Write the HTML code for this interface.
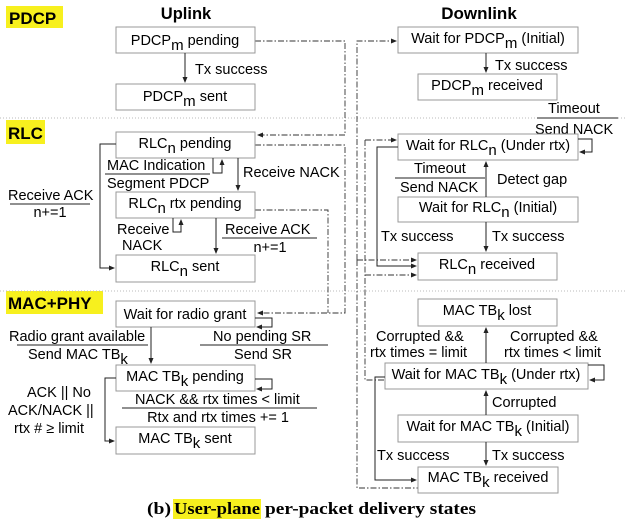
<!DOCTYPE html>
<html><head><meta charset="utf-8"><style>
body{margin:0;background:#fff;}
svg{display:block;font-family:"Liberation Sans",sans-serif;font-size:14.5px;}
.b{fill:#fff;stroke:#999;stroke-width:1;}
.l{stroke:#222;stroke-width:1;fill:none;}
.d{stroke:#333;stroke-width:0.9;fill:none;stroke-dasharray:6,2,1.5,2;}
</style></head><body>
<svg width="625" height="528" viewBox="0 0 625 528">
<defs><marker id="a" markerWidth="6" markerHeight="6" refX="5" refY="3" orient="auto" markerUnits="userSpaceOnUse"><path d="M0,0.5 L6,3 L0,5.5z" fill="#222"/></marker></defs>
<rect x="6" y="6" width="57" height="22" fill="#f7f01e"/>
<text x="9" y="24" font-weight="bold" font-size="17">PDCP</text>
<rect x="6" y="120" width="39" height="24" fill="#f7f01e"/>
<text x="8" y="139" font-weight="bold" font-size="17">RLC</text>
<rect x="6" y="291" width="97" height="23" fill="#f7f01e"/>
<text x="8" y="309" font-weight="bold" font-size="17">MAC+PHY</text>
<text x="186" y="19" font-weight="bold" font-size="16.5" text-anchor="middle">Uplink</text>
<text x="479" y="19" font-weight="bold" font-size="17" text-anchor="middle">Downlink</text>
<line x1="0" y1="118" x2="625" y2="118" stroke="#bbb" stroke-dasharray="1,2"/>
<line x1="0" y1="291" x2="625" y2="291" stroke="#bbb" stroke-dasharray="1,2"/>

<path class="d" d="M255,41 H345 V135 H258" marker-end="url(#a)"/>
<path class="d" d="M255,145 H345 V313 H258" marker-end="url(#a)"/>
<path class="d" d="M255,210 H328 V313"/>
<path class="d" d="M357,260 V41 H396" marker-end="url(#a)"/>
<path class="d" d="M357,260 H416" marker-end="url(#a)"/>
<path class="d" d="M357,260 V488 H418"/>
<path class="d" d="M365,140 H396" marker-end="url(#a)"/>
<path class="d" d="M365,140 V380 H385"/>
<path class="d" d="M365,275 H416" marker-end="url(#a)"/>

<rect class="b" x="116" y="27" width="139" height="26"/>
<text x="185" y="45" text-anchor="middle">PDCP<tspan dy="5" font-size="15">m</tspan><tspan dy="-5"> pending</tspan></text>
<rect class="b" x="116" y="84" width="139" height="26"/>
<text x="185" y="101" text-anchor="middle">PDCP<tspan dy="5" font-size="15">m</tspan><tspan dy="-5"> sent</tspan></text>
<path class="l" d="M185,53 V82" marker-end="url(#a)"/>
<text x="195" y="74">Tx success</text>

<rect class="b" x="116" y="132" width="139" height="26"/>
<text x="185" y="148" text-anchor="middle">RLC<tspan dy="5" font-size="15">n</tspan><tspan dy="-5"> pending</tspan></text>
<rect class="b" x="116" y="192" width="139" height="26"/>
<text x="185" y="208" text-anchor="middle">RLC<tspan dy="5" font-size="15">n</tspan><tspan dy="-5"> rtx pending</tspan></text>
<rect class="b" x="116" y="255" width="139" height="27"/>
<text x="185" y="271" text-anchor="middle">RLC<tspan dy="5" font-size="15">n</tspan><tspan dy="-5">  sent</tspan></text>
<path class="l" d="M238,158 V190" marker-end="url(#a)"/>
<text x="243" y="177">Receive NACK</text>
<path class="l" d="M213,158 V173 H222 V160" marker-end="url(#a)"/>
<text x="107" y="170">MAC Indication</text>
<line class="l" x1="105" y1="174" x2="210" y2="174"/>
<text x="107" y="188">Segment PDCP</text>
<text x="8" y="200">Receive ACK</text>
<line class="l" x1="10" y1="204" x2="90" y2="204"/>
<text x="50" y="217" text-anchor="middle">n+=1</text>
<path class="l" d="M116,144 H100 V268 H114" marker-end="url(#a)"/>
<path class="l" d="M216,218 V253" marker-end="url(#a)"/>
<path class="l" d="M173,218 V232 H181 V220" marker-end="url(#a)"/>
<text x="117" y="234">Receive</text>
<text x="122" y="250">NACK</text>
<text x="225" y="234">Receive ACK</text>
<line class="l" x1="222" y1="238" x2="317" y2="238"/>
<text x="270" y="252" text-anchor="middle">n+=1</text>

<rect class="b" x="116" y="301" width="139" height="26"/>
<text x="185" y="319" text-anchor="middle">Wait for radio grant</text>
<rect class="b" x="116" y="365" width="139" height="26"/>
<text x="185" y="381" text-anchor="middle">MAC TB<tspan dy="5" font-size="15">k</tspan><tspan dy="-5"> pending</tspan></text>
<rect class="b" x="116" y="427" width="139" height="27"/>
<text x="185" y="443" text-anchor="middle">MAC TB<tspan dy="5" font-size="15">k</tspan><tspan dy="-5"> sent</tspan></text>
<path class="l" d="M151,327 V363" marker-end="url(#a)"/>
<text x="9" y="341">Radio grant available</text>
<line class="l" x1="17" y1="345" x2="148" y2="345"/>
<text x="28" y="359">Send MAC TB<tspan dy="5" font-size="15">k</tspan></text>
<path class="l" d="M255,318 H272 V327 H257" marker-end="url(#a)"/>
<text x="213" y="341">No pending SR</text>
<line class="l" x1="200" y1="345" x2="328" y2="345"/>
<text x="263" y="359" text-anchor="middle">Send SR</text>
<path class="l" d="M255,379 H272 V389 H257" marker-end="url(#a)"/>
<text x="135" y="404">NACK &amp;&amp; rtx times &lt; limit</text>
<line class="l" x1="122" y1="408" x2="317" y2="408"/>
<text x="218" y="422" text-anchor="middle">Rtx and rtx times += 1</text>
<path class="l" d="M116,378 H105 V441 H114" marker-end="url(#a)"/>
<text x="27" y="397">ACK || No</text>
<text x="8" y="415">ACK/NACK ||</text>
<text x="14" y="433">rtx # ≥ limit</text>

<rect class="b" x="398" y="27" width="180" height="26"/>
<text x="488" y="43" text-anchor="middle">Wait for PDCP<tspan dy="5" font-size="15">m</tspan><tspan dy="-5">  (Initial)</tspan></text>
<rect class="b" x="418" y="74" width="139" height="26"/>
<text x="487" y="90" text-anchor="middle">PDCP<tspan dy="5" font-size="15">m</tspan><tspan dy="-5"> received</tspan></text>
<path class="l" d="M486,53 V72" marker-end="url(#a)"/>
<text x="495" y="70">Tx success</text>
<text x="548" y="113">Timeout</text>
<line class="l" x1="537" y1="118" x2="618" y2="118"/>
<text x="535" y="134">Send NACK</text>
<rect class="b" x="398" y="134" width="180" height="26"/>
<text x="488" y="150" text-anchor="middle">Wait for RLC<tspan dy="5" font-size="15">n</tspan><tspan dy="-5"> (Under rtx)</tspan></text>
<path class="l" d="M578,139 H592 V152 H580" marker-end="url(#a)"/>
<rect class="b" x="398" y="197" width="180" height="25"/>
<text x="488" y="212" text-anchor="middle">Wait for RLC<tspan dy="5" font-size="15">n</tspan><tspan dy="-5"> (Initial)</tspan></text>
<path class="l" d="M486,197 V162" marker-end="url(#a)"/>
<text x="497" y="184">Detect gap</text>
<text x="414" y="173">Timeout</text>
<line class="l" x1="395" y1="178" x2="485" y2="178"/>
<text x="400" y="192">Send NACK</text>
<rect class="b" x="418" y="253" width="139" height="27"/>
<text x="487" y="269" text-anchor="middle">RLC<tspan dy="5" font-size="15">n</tspan><tspan dy="-5"> received</tspan></text>
<path class="l" d="M486,222 V251" marker-end="url(#a)"/>
<text x="381" y="241">Tx  success</text>
<text x="492" y="241">Tx success</text>
<path class="l" d="M398,147 H377 V266 H416" marker-end="url(#a)"/>

<rect class="b" x="418" y="299" width="139" height="27"/>
<text x="487" y="315" text-anchor="middle">MAC TB<tspan dy="5" font-size="15">k</tspan><tspan dy="-5"> lost</tspan></text>
<rect class="b" x="385" y="363" width="203" height="26"/>
<text x="486" y="379" text-anchor="middle">Wait for MAC TB<tspan dy="5" font-size="15">k</tspan><tspan dy="-5"> (Under rtx)</tspan></text>
<path class="l" d="M486,363 V328" marker-end="url(#a)"/>
<text x="376" y="341">Corrupted &amp;&amp;</text>
<text x="370" y="357">rtx times = limit</text>
<text x="510" y="341">Corrupted &amp;&amp;</text>
<text x="504" y="357">rtx times &lt; limit</text>
<path class="l" d="M588,365 H604 V380 H590" marker-end="url(#a)"/>
<rect class="b" x="398" y="415" width="180" height="27"/>
<text x="488" y="431" text-anchor="middle">Wait for MAC TB<tspan dy="5" font-size="15">k</tspan><tspan dy="-5"> (Initial)</tspan></text>
<path class="l" d="M486,415 V391" marker-end="url(#a)"/>
<text x="492" y="407">Corrupted</text>
<rect class="b" x="418" y="467" width="140" height="26"/>
<text x="488" y="482" text-anchor="middle">MAC TB<tspan dy="5" font-size="15">k</tspan><tspan dy="-5"> received</tspan></text>
<path class="l" d="M486,442 V465" marker-end="url(#a)"/>
<text x="377" y="460">Tx  success</text>
<text x="492" y="460">Tx  success</text>
<path class="l" d="M385,377 H375 V480 H416" marker-end="url(#a)"/>

<rect x="173" y="499" width="88" height="20" fill="#f7f01e"/>
<g font-family="Liberation Serif, serif" font-weight="bold" font-size="17">
<text x="147" y="514" textLength="24" lengthAdjust="spacingAndGlyphs">(b)</text>
<text x="174" y="514" textLength="86" lengthAdjust="spacingAndGlyphs">User-plane</text>
<text x="265" y="514" textLength="211" lengthAdjust="spacingAndGlyphs">per-packet delivery states</text>
</g>
</svg>
</body></html>
